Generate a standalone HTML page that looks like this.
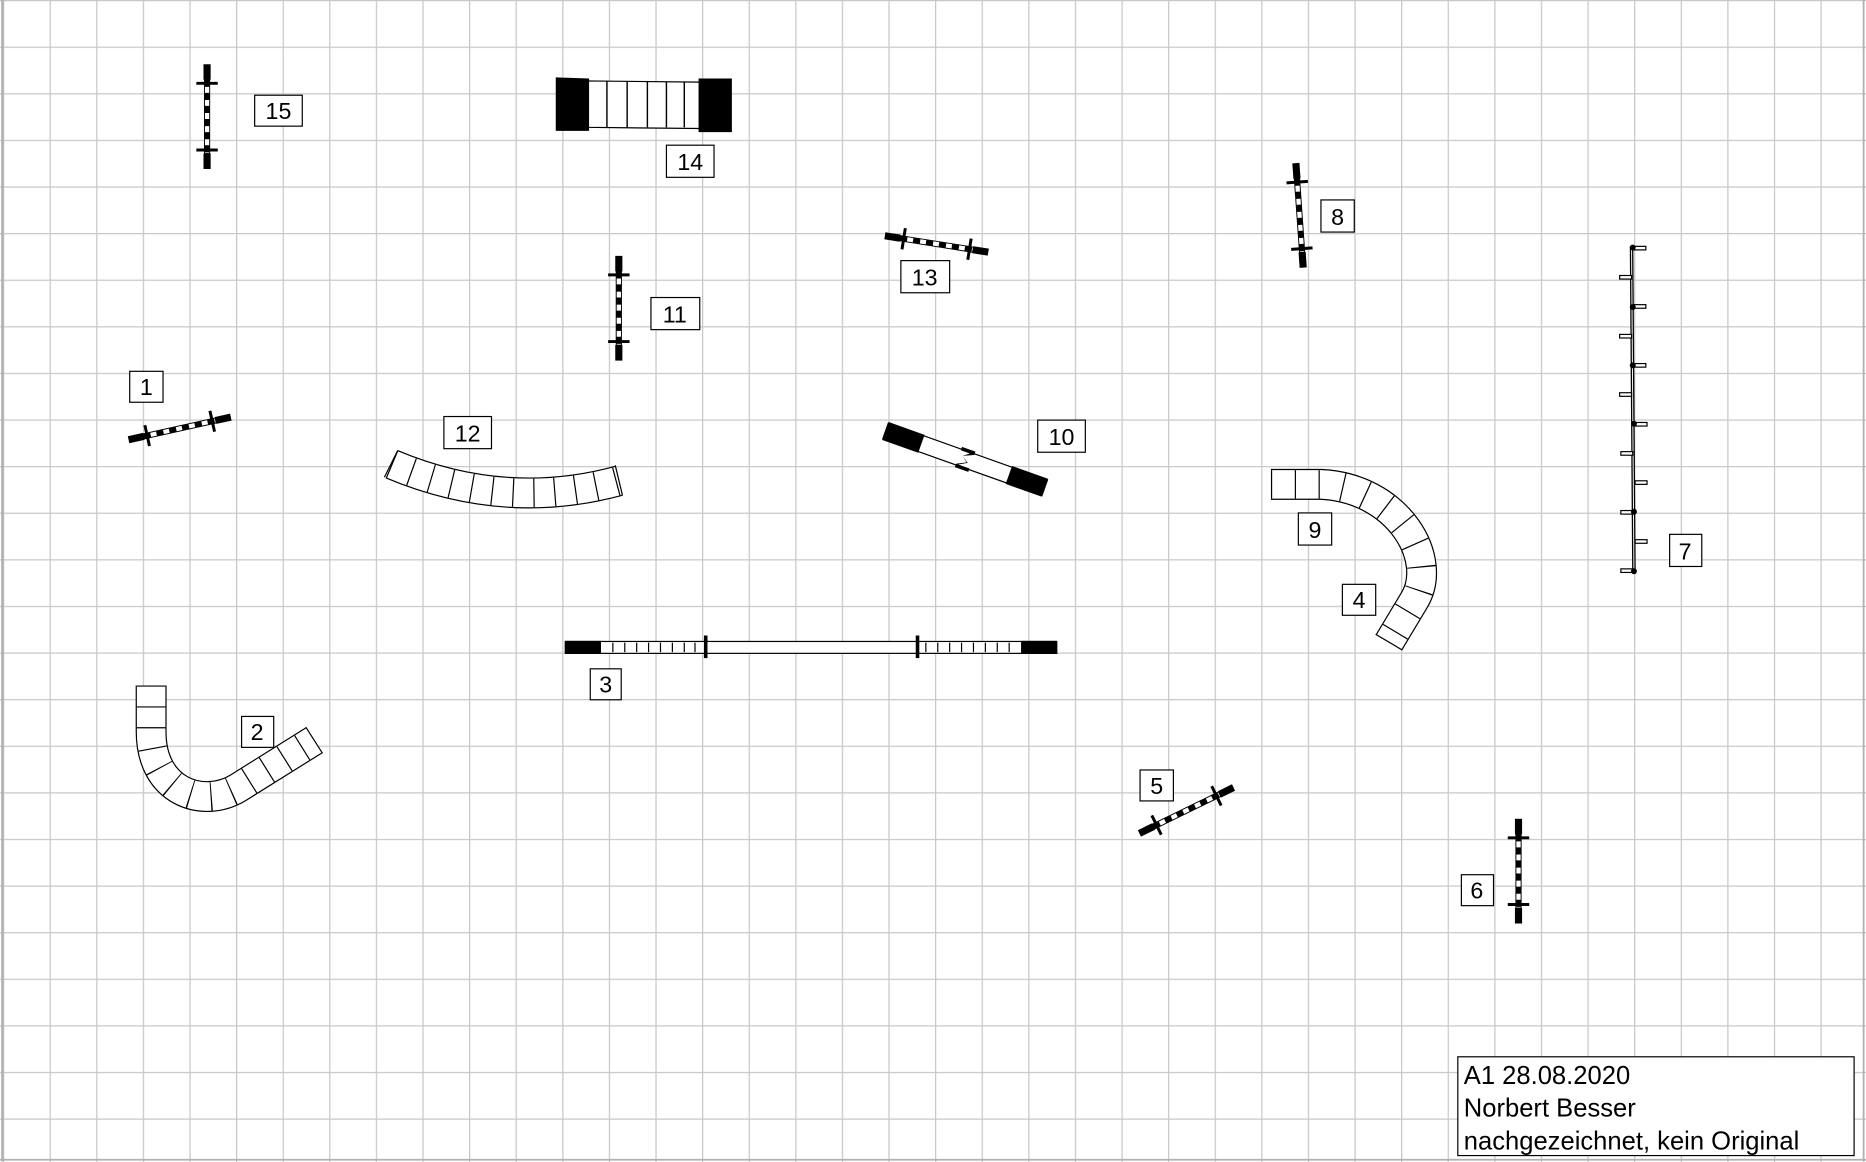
<!DOCTYPE html>
<html><head><meta charset="utf-8"><style>
html,body{margin:0;padding:0;background:#fff;}
svg{display:block;}
text{font-family:"Liberation Sans",Arial,sans-serif;}
</style></head><body>
<svg width="1866" height="1162" viewBox="0 0 1568 976.4" preserveAspectRatio="none" xmlns="http://www.w3.org/2000/svg">
<defs>
<pattern id="grid" x="2.5" y="0" width="39.16" height="39.16" patternUnits="userSpaceOnUse">
<path d="M0.5,0 V39.16 M0,0.5 H39.16" stroke="#c8c8c8" stroke-width="1.1" fill="none"/>
</pattern>
<g id="jump">
<rect x="-3" y="-44" width="6" height="13" fill="#000"/>
<rect x="-3" y="31" width="6" height="13" fill="#000"/>
<rect x="-2.2" y="-31" width="4.4" height="62" fill="#fff" stroke="#000" stroke-width="0.8"/>
<line x1="0" y1="-31" x2="0" y2="31" stroke="#000" stroke-width="4.4" stroke-dasharray="6 5"/>
<line x1="-9" y1="-28" x2="9" y2="-28" stroke="#000" stroke-width="2.5"/>
<line x1="-9" y1="28" x2="9" y2="28" stroke="#000" stroke-width="2.5"/>
</g>
</defs>
<rect x="0" y="0" width="1568" height="976.4" fill="#fff"/>
<rect x="0" y="0" width="1568" height="976.4" fill="url(#grid)"/>
<line x1="2" y1="0" x2="2" y2="976" stroke="#b0b0b0" stroke-width="2"/>
<line x1="0" y1="974.5" x2="1568" y2="974.5" stroke="#b0b0b0" stroke-width="1.5"/>
<line x1="1566" y1="0" x2="1566" y2="976" stroke="#b0b0b0" stroke-width="1.5"/>

<use href="#jump" transform="translate(174,98)"/>
<use href="#jump" transform="translate(520,259)"/>
<use href="#jump" transform="translate(1092,181) rotate(-4)"/>
<use href="#jump" transform="translate(787,205) rotate(-81)"/>
<use href="#jump" transform="translate(151,360) rotate(-102.5)"/>
<use href="#jump" transform="translate(997,681) rotate(-116)"/>
<use href="#jump" transform="translate(1276,732)"/>

<g>
<path d="M493,68 L588,69 L588,108 L493,107 Z" fill="#fff" stroke="#000" stroke-width="1"/>
<path d="M467,65 L495,66 L495,110 L467,110 Z" fill="#000"/>
<path d="M587,66 L615,66 L615,111 L587,111 Z" fill="#000"/>
<g stroke="#000" stroke-width="1.2">
<line x1="510" y1="68" x2="510" y2="107"/><line x1="527" y1="68" x2="527" y2="107"/>
<line x1="544" y1="68" x2="544" y2="107"/><line x1="560" y1="69" x2="560" y2="107"/>
<line x1="575" y1="69" x2="575" y2="107"/>
</g>
</g>

<g fill="none" stroke-linecap="butt">
<path d="M329,390 Q424,430 520,404" stroke="#000" stroke-width="26"/>
<path d="M329,390 Q424,430 520,404" stroke="#fff" stroke-width="24"/>
<path d="M329,390 Q424,430 520,404" stroke="#000" stroke-width="24" stroke-dasharray="1 16.5"/>
<line x1="334" y1="379" x2="323" y2="401" stroke="#000" stroke-width="1"/>
<line x1="517" y1="391" x2="523" y2="416" stroke="#000" stroke-width="1"/>

<path d="M127,576 L127,615 C127,665 170,680 200,662 L264,622" stroke="#000" stroke-width="26"/>
<path d="M127,576 L127,615 C127,665 170,680 200,662 L264,622" stroke="#fff" stroke-width="24"/>
<path d="M127,576 L127,615 C127,665 170,680 200,662 L264,622" stroke="#000" stroke-width="24" stroke-dasharray="1 16.5"/>
<line x1="257" y1="611" x2="271" y2="633" stroke="#000" stroke-width="1"/>

<path d="M1068,407 L1110,407 C1175,410 1210,470 1188,505 L1167,540" stroke="#000" stroke-width="26"/>
<path d="M1068,407 L1110,407 C1175,410 1210,470 1188,505 L1167,540" stroke="#fff" stroke-width="24"/>
<path d="M1068,407 L1110,407 C1175,410 1210,470 1188,505 L1167,540" stroke="#000" stroke-width="24" stroke-dasharray="1 19"/>
<line x1="1156" y1="533" x2="1178" y2="546" stroke="#000" stroke-width="1"/>
</g>

<g transform="translate(811,386) rotate(19.6)">
<rect x="-71" y="-7" width="142" height="14" fill="#fff" stroke="#000" stroke-width="1"/>
<rect x="-71" y="-8" width="32" height="16" fill="#000"/>
<rect x="39" y="-8" width="32" height="16" fill="#000"/>
<path d="M-6,-9 L6,-9 L6,-6 L-3,-2 L3,2 L-4,6 L6,6 L6,9 L-6,9 L-6,6 L2,2 L-3,-2 L2,-6 L-6,-6 Z" fill="#000"/>
</g>

<g>
<rect x="475" y="539" width="413" height="10" fill="#fff" stroke="#000" stroke-width="1"/>
<rect x="475" y="538.5" width="30" height="11" fill="#000"/>
<rect x="858" y="538.5" width="30" height="11" fill="#000"/>
<g stroke="#000" stroke-width="1">
<line x1="515" y1="540" x2="515" y2="548"/><line x1="525" y1="540" x2="525" y2="548"/>
<line x1="535" y1="540" x2="535" y2="548"/><line x1="545" y1="540" x2="545" y2="548"/>
<line x1="555" y1="540" x2="555" y2="548"/><line x1="565" y1="540" x2="565" y2="548"/>
<line x1="575" y1="540" x2="575" y2="548"/><line x1="584" y1="540" x2="584" y2="548"/>
<line x1="778" y1="540" x2="778" y2="548"/><line x1="788" y1="540" x2="788" y2="548"/>
<line x1="798" y1="540" x2="798" y2="548"/><line x1="808" y1="540" x2="808" y2="548"/>
<line x1="818" y1="540" x2="818" y2="548"/><line x1="828" y1="540" x2="828" y2="548"/>
<line x1="838" y1="540" x2="838" y2="548"/><line x1="848" y1="540" x2="848" y2="548"/>
</g>
<rect x="591.5" y="534" width="3" height="19" fill="#000"/>
<rect x="769.5" y="534" width="3" height="19" fill="#000"/>
</g>

<g>
<line x1="1371" y1="207" x2="1373" y2="481" stroke="#000" stroke-width="3"/>
<line x1="1371" y1="207" x2="1373" y2="481" stroke="#fff" stroke-width="0.8"/>
<g fill="#fff" stroke="#000" stroke-width="1">
<rect x="1373" y="207" width="10" height="3"/><rect x="1361" y="231.5" width="10" height="3"/>
<rect x="1373" y="256" width="10" height="3"/><rect x="1361" y="281" width="10" height="3"/>
<rect x="1373" y="305.5" width="10" height="3"/><rect x="1361" y="330" width="10" height="3"/>
<rect x="1374" y="355" width="10" height="3"/><rect x="1362" y="379.5" width="10" height="3"/>
<rect x="1374" y="404" width="10" height="3"/><rect x="1362" y="429" width="10" height="3"/>
<rect x="1374" y="453.5" width="10" height="3"/><rect x="1362" y="478" width="10" height="3"/>
</g>
<g fill="#000">
<circle cx="1372" cy="208" r="2.5"/><circle cx="1372" cy="258" r="2.5"/><circle cx="1372" cy="307" r="2.5"/>
<circle cx="1373" cy="356" r="2.5"/><circle cx="1373" cy="430" r="2.5"/><circle cx="1373" cy="480" r="2.5"/>
</g>
</g>

<g font-size="19.5" text-anchor="middle" fill="#000">
<rect x="214" y="80" width="40" height="26" fill="#fff" stroke="#000"/><text x="234" y="100">15</text>
<rect x="560" y="122" width="40" height="27" fill="#fff" stroke="#000"/><text x="580" y="143">14</text>
<rect x="547" y="250" width="41" height="27" fill="#fff" stroke="#000"/><text x="567" y="271">11</text>
<rect x="757" y="219" width="41" height="27" fill="#fff" stroke="#000"/><text x="777" y="240">13</text>
<rect x="1110" y="168" width="28" height="27" fill="#fff" stroke="#000"/><text x="1124" y="189">8</text>
<rect x="109" y="312" width="28" height="26" fill="#fff" stroke="#000"/><text x="123" y="332">1</text>
<rect x="373" y="350" width="40" height="27" fill="#fff" stroke="#000"/><text x="393" y="371">12</text>
<rect x="872" y="353" width="40" height="27" fill="#fff" stroke="#000"/><text x="892" y="374">10</text>
<rect x="1091" y="431" width="28" height="27" fill="#fff" stroke="#000"/><text x="1105" y="452">9</text>
<rect x="1128" y="491" width="28" height="26" fill="#fff" stroke="#000"/><text x="1142" y="511">4</text>
<rect x="1403" y="449" width="27" height="27" fill="#fff" stroke="#000"/><text x="1416" y="470">7</text>
<rect x="496" y="562" width="26" height="26" fill="#fff" stroke="#000"/><text x="509" y="582">3</text>
<rect x="203" y="602" width="27" height="26" fill="#fff" stroke="#000"/><text x="216" y="622">2</text>
<rect x="958" y="647" width="28" height="26" fill="#fff" stroke="#000"/><text x="972" y="667">5</text>
<rect x="1228" y="735" width="27" height="26" fill="#fff" stroke="#000"/><text x="1241" y="755">6</text>
</g>

<rect x="1225" y="888" width="333" height="83" fill="#fff" stroke="#000" stroke-width="1"/>
<g font-size="21.5" fill="#000">
<text x="1230" y="911">A1 28.08.2020</text>
<text x="1230" y="938">Norbert Besser</text>
<text x="1230" y="966">nachgezeichnet, kein Original</text>
</g>
</svg>
</body></html>
